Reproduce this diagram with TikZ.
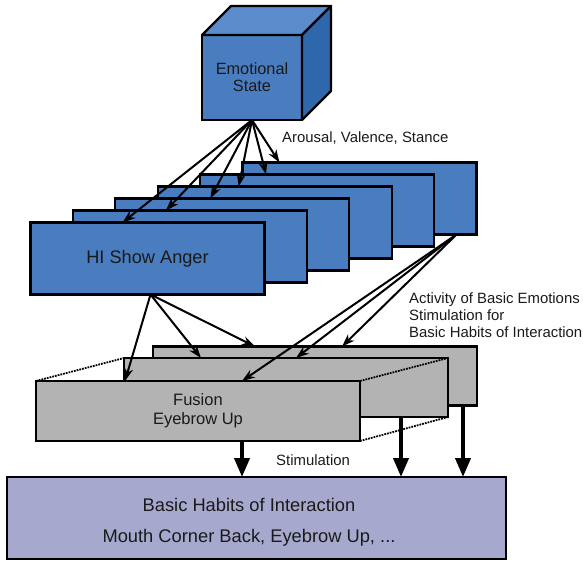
\documentclass[tikz,border=0pt]{standalone}
\usepackage{fontspec}
\setmainfont{Liberation Sans}
\usetikzlibrary{arrows.meta, positioning, calc}

\definecolor{faceblue}{HTML}{4A7CC0}
\definecolor{topblue}{HTML}{5B8BCB}
\definecolor{sideblue}{HTML}{2F67AD}
\definecolor{boxgrey}{HTML}{B3B3B3}
\definecolor{basepurple}{HTML}{A6A9CD}
\definecolor{txt}{HTML}{1A1A1A}

\begin{document}
\begin{tikzpicture}[x=1pt, y=-1pt,
    panel/.style={draw, line width=2.3pt, fill=faceblue, outer sep=0pt, minimum width=234pt, minimum height=72pt},
    greybox/.style={draw, line width=2.3pt, fill=boxgrey, outer sep=0pt, minimum width=324pt, minimum height=59pt},
    arr/.style={line width=2pt, -{Stealth[length=13pt, width=9pt]}},
    bigarr/.style={line width=4pt, -{Triangle[length=19pt, width=15pt]}},
    lbl/.style={text=txt, inner sep=0pt, font=\fontsize{14.9}{17}\selectfont}]
    \useasboundingbox (0,0) rectangle (583,562);

    % cube
    \node[draw, line width=2.3pt, fill=faceblue, outer sep=0pt, minimum width=100pt, minimum height=85pt, align=center, text=txt, font=\fontsize{16.3}{17}\selectfont] (emo) at (252,77.5) {Emotional\\State};
    \draw[line width=2.3pt, fill=topblue, line join=round] (emo.north west) -- ++(29,-29) -- ++(100,0) -- (emo.north east) -- cycle;
    \draw[line width=2.3pt, fill=sideblue, line join=round] (emo.north east) -- ++(29,-29) -- ++(0,85) -- (emo.south east) -- cycle;

    % behaviour panels
    \foreach \i in {6,5,...,2}
        \node[panel] (p\i) at ({147.5+42.4*(\i-1)}, {258.5-12*(\i-1)}) {};
    \node[panel, text=txt, font=\fontsize{18.2}{20}\selectfont] (p1) at (147.5,258.5) {HI Show Anger};

    \foreach \i/\dx in {1/92, 2/93, 3/95, 4/81, 5/66, 6/37}
        \draw[arr] (emo.south) -- ($(p\i.north west)+(\dx,0)$);
    \node[lbl, anchor=west] (avs) at (282,138) {Arousal, Valence, Stance};

    % fusion boxes
    \node[greybox] (g3) at (315,376) {};
    \node[greybox] (g2) at (286,387.5) {};
    \node[greybox, minimum height=60pt, align=center, text=txt, font=\fontsize{16.5}{19}\selectfont] (g1) at (198,411) {Fusion\\Eyebrow Up};
    \draw[densely dotted, line width=1.8pt] (g1.north west) -- (g2.north west);
    \draw[densely dotted, line width=1.8pt] (g1.north east) -- (g2.north east);
    \draw[densely dotted, line width=1.8pt] (g1.south east) -- (g2.south east);

    \draw[arr] ($(p1.south)+(3,0)$) -- ($(g1.north west)+(89,0)$);
    \draw[arr] ($(p1.south)+(3,0)$) -- ($(g2.north west)+(77,0)$);
    \draw[arr] ($(p1.south)+(3,0)$) -- ($(g3.north west)+(102,0)$);
    \draw[arr] ($(p6.south east)+(-20,0)$) -- ($(g1.north west)+(206,0)$);
    \draw[arr] ($(p6.south east)+(-20,0)$) -- ($(g2.north west)+(172,0)$);
    \draw[arr] ($(p6.south east)+(-20,0)$) -- ($(g3.north west)+(189,0)$);
    \node[lbl, anchor=west, align=left] (act) at (409,315) {Activity of Basic Emotions\\Stimulation for\\Basic Habits of Interaction};

    % basic habits
    \node[draw, line width=2.3pt, fill=basepurple, outer sep=0pt, minimum width=499pt, minimum height=82pt] (base) at (256.5,518) {};
    \node[text=txt, font=\fontsize{18.3}{20}\selectfont] (basetitle) at (249,505) {Basic Habits of Interaction};
    \node[text=txt, font=\fontsize{18.3}{20}\selectfont] (baseitems) at (249,538) {Mouth Corner Back, Eyebrow Up, ...};

    \coordinate (s1) at ($(g1.south west)+(206,0)$);
    \coordinate (s2) at ($(g2.south west)+(277,0)$);
    \coordinate (s3) at ($(g3.south west)+(310,0)$);
    \draw[bigarr] (s1) -- (s1 |- base.north);
    \draw[bigarr] (s2) -- (s2 |- base.north);
    \draw[bigarr] (s3) -- (s3 |- base.north);
    \node[lbl, anchor=west] (stim) at (276,460) {Stimulation};
\end{tikzpicture}
\end{document}
